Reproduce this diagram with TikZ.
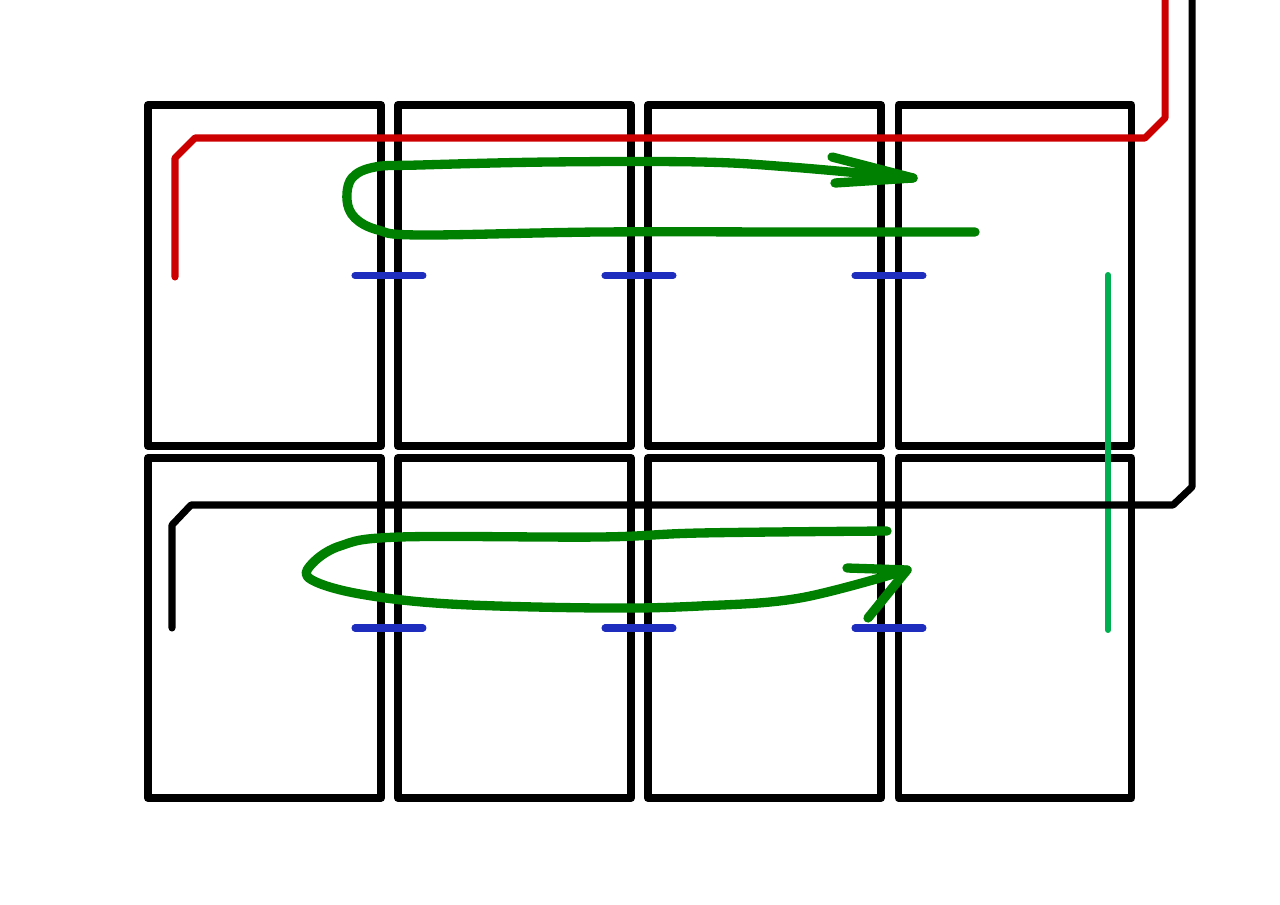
\documentclass[tikz,border=0pt]{standalone}
\usetikzlibrary{positioning}
\definecolor{wirered}{RGB}{204,0,0}
\definecolor{loopgreen}{RGB}{0,128,0}
\definecolor{feedgreen}{RGB}{0,176,80}
\definecolor{tieblue}{RGB}{30,45,190}
\begin{document}
\begin{tikzpicture}[x=0.02cm,y=-0.02cm,line cap=round,line join=round,
  cell/.style={draw,line width=4.5pt,minimum width=4.66cm,minimum height=6.82cm,inner sep=0pt,outer sep=0pt},
  tie/.style={tieblue,line width=4pt},
  redwire/.style={wirered,line width=4pt},
  blackwire/.style={black,line width=4pt},
  feeder/.style={feedgreen,line width=3.4pt},
  looppath/.style={loopgreen,line width=5.3pt}]
\useasboundingbox (0,0) rectangle (1280,905);
%cells
\foreach \c/\x in {1/264.5,2/514.5,3/764.5,4/1015}{
  \node[cell] (A\c) at (\x,275.5) {};
  \node[cell,minimum height=6.8cm] (B\c) at (\x,628) {};
}

%green feeder
\coordinate (F1) at (1108,275);
\coordinate (F2) at (1108,630);
\draw[feeder] (F1) -- (F2);

%wires
\coordinate (redend) at (175,277);
\draw[redwire] (redend) -- ++(0,-119) -- ++(20,-20) -- ++(950,0) -- ++(20,-20) -- ++(0,-118);
\coordinate (blackend) at (172,628);
\draw[blackwire] (blackend) -- ++(0,-103) -- ++(19,-20) -- ++(982,0) -- ++(19,-18) -- ++(0,-487);

%ties
\foreach \c/\d in {1/2,2/3,3/4}{
  \draw[tie] (A\c.east) ++(-26,0) -- ++(68,0);
  \draw[tie] (B\c.east) ++(-26,0) -- ++(68,0);
}

%loops
\draw[looppath] plot[smooth,tension=0.6] coordinates {(975,232) (800,232) (600,232) (420,235) (378,230) (355,218) (347,200) (352,178) (375,167) (420,165) (550,162) (700,162) (790,167) (913,178)};
\draw[looppath] (832,157) -- (913,178) -- (835,183);
\draw[looppath] plot[smooth,tension=0.6] coordinates {(887,531) (700,533) (600,537) (400,537) (340,546) (310,566) (312,580) (360,594) (450,604) (600,608) (700,606) (800,598) (907,570)};
\draw[looppath] (847,568) -- (907,570) -- (868,618);
\end{tikzpicture}
\end{document}
